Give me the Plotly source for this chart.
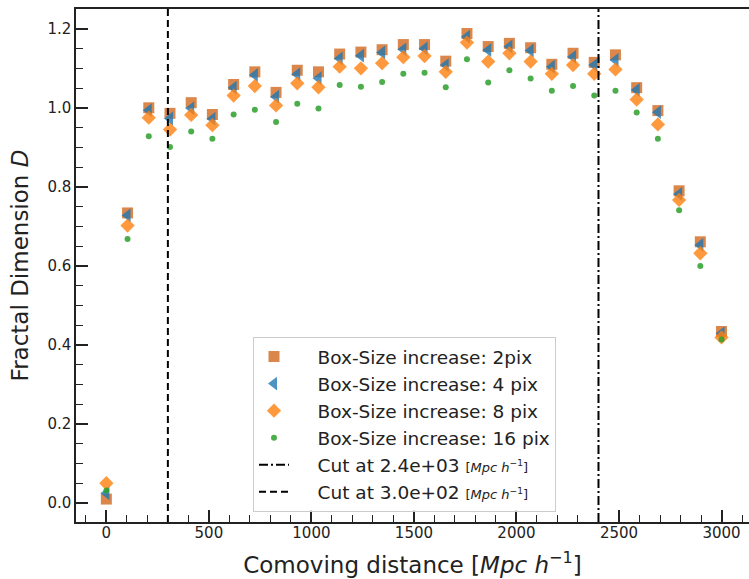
import plotly.graph_objects as go

# ---- data ----
distance = [0.0, 103.4, 206.9, 310.3, 413.8, 517.2, 620.7, 724.1, 827.6, 931.0,
            1034.5, 1137.9, 1241.4, 1344.8, 1448.3, 1551.7, 1655.2, 1758.6, 1862.1, 1965.5,
            2069.0, 2172.4, 2275.9, 2379.3, 2482.8, 2586.2, 2689.7, 2793.1, 2896.6, 3000.0]

d_2pix = [0.010, 0.734, 1.000, 0.986, 1.013, 0.983, 1.059, 1.091, 1.039, 1.095,
          1.091, 1.136, 1.141, 1.147, 1.160, 1.160, 1.118, 1.188, 1.155, 1.163,
          1.152, 1.110, 1.138, 1.115, 1.134, 1.051, 0.993, 0.790, 0.661, 0.434]
d_4pix = [0.025, 0.728, 0.994, 0.973, 0.999, 0.972, 1.051, 1.083, 1.028, 1.085,
          1.075, 1.125, 1.132, 1.140, 1.148, 1.150, 1.108, 1.180, 1.146, 1.155,
          1.145, 1.104, 1.129, 1.108, 1.121, 1.045, 0.989, 0.782, 0.653, 0.429]
d_8pix = [0.050, 0.702, 0.975, 0.945, 0.982, 0.956, 1.031, 1.055, 1.006, 1.062,
          1.052, 1.104, 1.100, 1.113, 1.128, 1.131, 1.091, 1.165, 1.117, 1.138,
          1.117, 1.086, 1.108, 1.086, 1.097, 1.021, 0.958, 0.767, 0.632, 0.419]
d_16pix = [0.032, 0.668, 0.928, 0.901, 0.940, 0.922, 0.983, 0.995, 0.964, 1.010,
           0.998, 1.058, 1.053, 1.065, 1.086, 1.089, 1.052, 1.123, 1.064, 1.095,
           1.074, 1.043, 1.055, 1.031, 1.043, 0.988, 0.922, 0.741, 0.600, 0.414]

series_names = ["Box-Size increase: 2pix", "Box-Size increase: 4 pix",
                "Box-Size increase: 8 pix", "Box-Size increase: 16 pix"]

cut_high = 2400
cut_low = 300

x_ticks = [0, 500, 1000, 1500, 2000, 2500, 3000]
y_ticks = [0.0, 0.2, 0.4, 0.6, 0.8, 1.0, 1.2]

# ---- figure ----
FONT = "DejaVu Sans"
INK = "#222222"
GAP = "&nbsp;&nbsp;&nbsp;&nbsp;"
unit_small = "<span style='font-size:13px'>[<i>Mpc h</i><sup>−1</sup>]</span>"

fig = go.Figure()
styles = [
    dict(symbol="square", size=11, color="rgba(210,105,30,0.8)"),
    dict(symbol="triangle-left", size=12, color="rgba(31,119,180,0.8)"),
    dict(symbol="diamond", size=11, color="rgba(255,127,14,0.8)"),
    dict(symbol="circle", size=6, color="rgba(44,160,44,0.85)"),
]
for name, ys, st in zip(series_names, [d_2pix, d_4pix, d_8pix, d_16pix], styles):
    fig.add_trace(go.Scatter(
        x=distance, y=ys, mode="markers", name=GAP + name,
        marker=dict(symbol=st["symbol"], size=st["size"], color=st["color"],
                    line=dict(width=0)),
    ))

fig.add_shape(type="line", x0=cut_high, x1=cut_high, xref="x", yref="paper", y0=0, y1=1,
              line=dict(color="black", width=2, dash="9px,3px,2px,3px"),
              showlegend=True, name=GAP + f"Cut at {cut_high:.1e} " + unit_small)
fig.add_shape(type="line", x0=cut_low, x1=cut_low, xref="x", yref="paper", y0=0, y1=1,
              line=dict(color="black", width=2, dash="7px,4px"),
              showlegend=True, name=GAP + f"Cut at {cut_low:.1e} " + unit_small)

fig.update_layout(
    width=749, height=579,
    margin=dict(l=76, r=0, t=9, b=57, autoexpand=False),
    paper_bgcolor="white", plot_bgcolor="white",
    font=dict(family=FONT, color=INK),
    legend=dict(
        x=(253 - 76) / 673, y=(522 - 337) / 513, xanchor="left", yanchor="top",
        bgcolor="rgba(255,255,255,0.8)", bordercolor="#cccccc", borderwidth=1,
        font=dict(size=18.5, family=FONT, color=INK),
        tracegroupgap=0,
    ),
)

fig.update_xaxes(
    range=[-148, 3134], automargin=False,
    tickvals=x_ticks, ticktext=[str(v) for v in x_ticks],
    ticks="inside", ticklen=12, tickwidth=1.5, tickcolor=INK,
    showline=True, linecolor=INK, linewidth=1.5, mirror=True,
    showgrid=False, zeroline=False, ticklabelstandoff=-4,
    tickfont=dict(size=15, family=FONT, color=INK),
    minor=dict(dtick=100, tick0=0, ticks="inside", ticklen=7, tickwidth=1.2,
               tickcolor=INK, showgrid=False),
    title=dict(text="Comoving distance [<i>Mpc h</i><sup>−1</sup>]",
               font=dict(size=23, family=FONT, color=INK), standoff=16),
)
fig.update_yaxes(
    range=[-0.048, 1.25], automargin=False,
    tickvals=y_ticks, ticktext=[f"{v:.1f}" for v in y_ticks],
    ticks="inside", ticklen=12, tickwidth=1.5, tickcolor=INK,
    showline=True, linecolor=INK, linewidth=1.5, mirror=False,
    showgrid=False, zeroline=False,
    tickfont=dict(size=15, family=FONT, color=INK),
    minor=dict(dtick=0.05, tick0=0, ticks="inside", ticklen=7, tickwidth=1.2,
               tickcolor=INK, showgrid=False),
    title=dict(text="Fractal Dimension <i>D</i>",
               font=dict(size=23, family=FONT, color=INK), standoff=12),
)

# remove the page's default body margin so the figure fills the window exactly
fig.write_html(
    "out.html",
    config={"displayModeBar": False},
    post_script="document.body.style.margin='0';document.body.style.overflow='hidden';",
)
